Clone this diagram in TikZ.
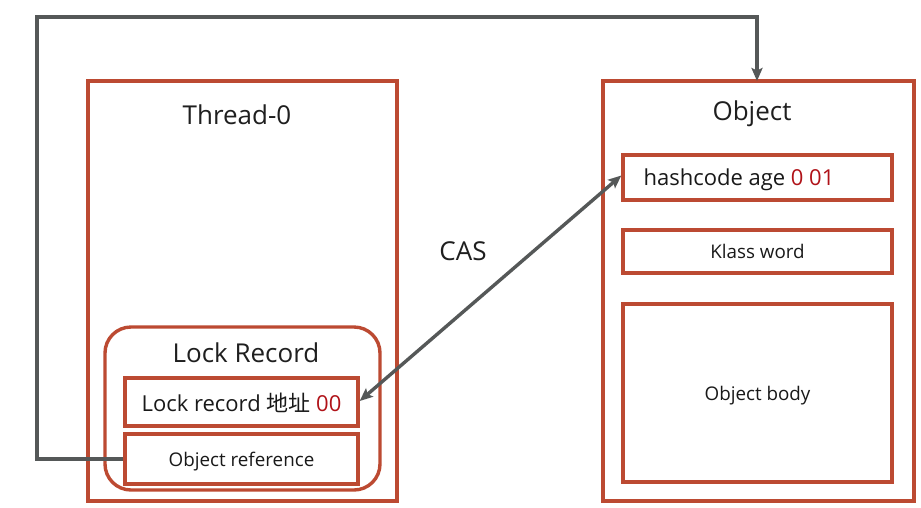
\documentclass[tikz,border=0pt]{standalone}
\usepackage{fontspec}
\setmainfont{Open Sans}
\newfontfamily\cjk{Noto Sans CJK SC}
\usetikzlibrary{arrows.meta}
\definecolor{boxred}{RGB}{188,74,50}
\definecolor{linkgray}{RGB}{85,88,88}
\definecolor{bitred}{RGB}{176,18,24}
\tikzset{
  frame/.style={draw=boxred, line width=3.4pt},
  field/.style={draw=boxred, line width=3.4pt, text depth=0pt},
  title/.style={font=\fontsize{26}{30}\selectfont, text=black!88},
  big/.style={font=\fontsize{22}{25}\selectfont, text=black!90},
  small/.style={font=\fontsize{18.8}{22}\selectfont, text=black!90},
  link/.style={draw=linkgray, line width=3.4pt},
  tip/.style={-{Stealth[length=13pt,width=11pt,inset=2.5pt]}}
}
\begin{document}
\begin{tikzpicture}[x=1pt,y=-1pt]
  \useasboundingbox[fill=white] (0,0) rectangle (921,507);

  % thread stack frame
  \draw[frame] (88,81) rectangle (397,501);
  \node[title] (thread) at (237,115) {Thread-0};

  % lock record inside the thread
  \draw[frame, rounded corners=26pt] (105,327) rectangle (380,490);
  \node[title] (lockrec) at (246,353) {Lock Record};
  \node[field, minimum width=233pt, minimum height=48pt, inner sep=0pt, big] (addr) at (241.5,402)
    {Lock record {\cjk 地址} \textcolor{bitred}{00}};
  \node[field, minimum width=233pt, minimum height=50pt, inner sep=0pt, small] (objref) at (241.5,459)
    {Object reference};

  % object on the heap
  \draw[frame] (603,81) rectangle (914,501);
  \coordinate (objtop) at (757,81);
  \node[title] (object) at (752,114) {Object};
  \node[field, minimum width=269pt, minimum height=45pt, inner sep=0pt] (mark) at (757.5,177.5) {};
  \node[big, anchor=west] (marktext) at (640,180) {hashcode age \textcolor{bitred}{0 01}};
  \node[field, minimum width=269pt, minimum height=43pt, inner sep=0pt, small] (klass) at (757.5,251.5)
    {Klass word};
  \node[field, minimum width=269pt, minimum height=178pt, inner sep=0pt, small] (body) at (757.5,393)
    {Object body};

  % object reference pointing back to the object
  \draw[link, tip] (objref.west) -- (37,459) -- (37,17) -- (757,17) -- (objtop);

  % compare-and-swap between lock record and mark word
  \draw[link, {Stealth[length=13pt,width=11pt,inset=2.5pt]}-{Stealth[length=13pt,width=11pt,inset=2.5pt]}]
    ([yshift=1pt]addr.east) -- ([yshift=2pt]mark.west);
  \node[title] (cas) at (463,251) {CAS};
\end{tikzpicture}
\end{document}
